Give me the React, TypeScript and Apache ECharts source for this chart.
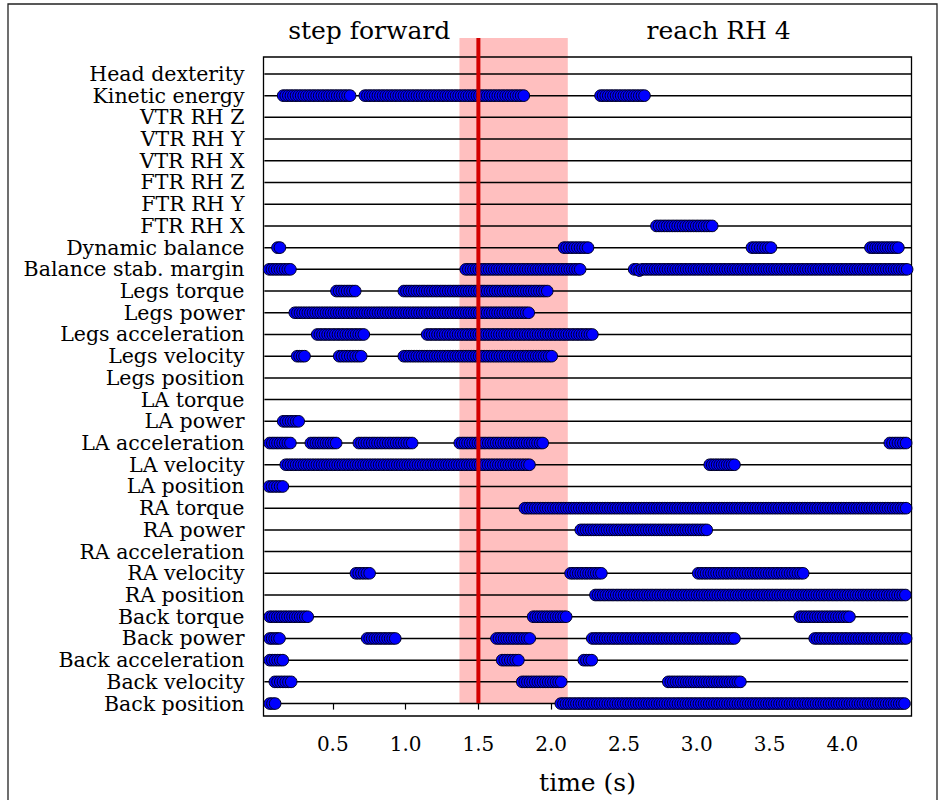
import React, { useEffect, useRef } from "react";
import * as echarts from "echarts";

// Row names, top to bottom
const rowNames: string[] = [
  "Head dexterity",
  "Kinetic energy",
  "VTR RH Z",
  "VTR RH Y",
  "VTR RH X",
  "FTR RH Z",
  "FTR RH Y",
  "FTR RH X",
  "Dynamic balance",
  "Balance stab. margin",
  "Legs torque",
  "Legs power",
  "Legs acceleration",
  "Legs velocity",
  "Legs position",
  "LA torque",
  "LA power",
  "LA acceleration",
  "LA velocity",
  "LA position",
  "RA torque",
  "RA power",
  "RA acceleration",
  "RA velocity",
  "RA position",
  "Back torque",
  "Back power",
  "Back acceleration",
  "Back velocity",
  "Back position",
];

// Active intervals (s) per row, same order as rowNames
const rowSegments: number[][][] = [
  [],
  [[0.159, 0.619], [0.72, 1.812], [2.339, 2.641]],
  [],
  [],
  [],
  [],
  [],
  [[2.723, 3.106]],
  [[0.12, 0.137], [2.088, 2.253], [3.379, 3.51], [4.193, 4.385]],
  [[0.063, 0.209], [1.413, 2.199], [2.57, 4.445]],
  [[0.525, 0.654], [0.988, 1.973]],
  [[0.239, 1.846]],
  [[0.393, 0.713], [1.148, 2.283]],
  [[0.255, 0.306], [0.544, 0.695], [0.988, 2.004]],
  [],
  [],
  [[0.159, 0.266]],
  [[0.067, 0.209], [0.349, 0.523], [0.679, 1.045], [1.372, 1.942], [4.326, 4.438]],
  [[0.177, 1.851], [3.089, 3.259]],
  [[0.063, 0.157]],
  [[1.819, 4.438]],
  [[2.203, 3.069]],
  [],
  [[0.659, 0.753], [2.133, 2.345], [3.01, 3.731]],
  [[2.304, 4.433]],
  [[0.067, 0.328], [1.876, 2.103], [3.707, 4.049]],
  [[0.067, 0.134], [0.736, 0.929], [1.624, 1.853], [2.282, 3.259], [3.81, 4.438]],
  [[0.067, 0.157], [1.663, 1.775], [2.224, 2.279]],
  [[0.102, 0.214], [1.801, 2.069], [2.804, 3.3]],
  [[0.067, 0.104], [2.066, 4.427]],
];

// Recording time range per row (s)
const lineStart = 0.03;
const lineEnds: number[] = [
  4.475, 4.475, 4.475, 4.475, 4.475, 4.475, 4.475, 4.475, 4.475, 4.475,
  4.475, 4.475, 4.475, 4.475, 4.475, 4.475, 4.475, 4.475, 4.475, 4.475,
  4.475, 4.475, 4.475, 4.475, 4.475, 4.452, 4.452, 4.452, 4.452, 4.452,
];

const xTicks: number[] = [0.5, 1.0, 1.5, 2.0, 2.5, 3.0, 3.5, 4.0];
const xMin = 0.024;
const xMax = 4.475;

const eventSpan: number[] = [1.37, 2.114];
const eventTime = 1.5;
const phaseCenters: number[] = [0.75, 3.15];
const phaseLabels: string[] = ["step forward", "reach RH 4"];

const FONT = "DejaVu Serif";

export default function App() {
  const ref = useRef<HTMLDivElement>(null);

  useEffect(() => {
    if (!ref.current) return;
    const chart = echarts.init(ref.current, undefined, { renderer: "svg" });
    const nRows = rowNames.length;
    const rowData = rowNames.map((_, k) => [nRows - 1 - k, lineStart, lineEnds[k]]);

    const option: any = {
      animation: false,
      backgroundColor: "#fff",
      graphic: [
        {
          type: "rect",
          shape: { x: 8, y: 4, width: 929, height: 820 },
          style: { fill: "none", stroke: "#222", lineWidth: 1.3 },
          silent: true,
        },
      ],
      grid: [
        {
          left: 263.5,
          right: 28.5,
          top: 57,
          bottom: 84,
          show: true,
          borderColor: "#000",
          borderWidth: 1.3,
          backgroundColor: "transparent",
          z: 1,
        },
        { left: 263.5, right: 28.5, top: 38, bottom: 96.7, show: false },
      ],
      xAxis: [
        {
          type: "value",
          gridIndex: 0,
          min: xMin,
          max: xMax,
          axisLine: { show: false },
          splitLine: { show: false },
          axisTick: {
            show: true,
            customValues: xTicks,
            inside: false,
            length: 6,
            lineStyle: { color: "#000", width: 1.2 },
          },
          axisLabel: {
            customValues: xTicks,
            formatter: (v: number) => v.toFixed(1),
            fontFamily: FONT,
            fontSize: 20,
            color: "#000",
            margin: 18,
          },
          name: "time (s)",
          nameLocation: "middle",
          nameGap: 54,
          nameTextStyle: { fontFamily: FONT, fontSize: 25, color: "#000" },
        },
        { type: "value", gridIndex: 1, min: xMin, max: xMax, show: false },
      ],
      yAxis: [
        {
          type: "value",
          gridIndex: 0,
          min: -0.572,
          max: 29.78,
          axisLine: { show: false },
          axisTick: { show: false },
          splitLine: { show: false },
          axisLabel: {
            customValues: rowNames.map((_, k) => k),
            formatter: (v: number) => rowNames[nRows - 1 - Math.round(v)],
            fontFamily: FONT,
            fontSize: 20.5,
            color: "#000",
            margin: 19,
          },
        },
        { type: "value", gridIndex: 1, min: 0, max: 1, show: false },
      ],
      series: [
        {
          type: "custom",
          name: "span",
          xAxisIndex: 1,
          yAxisIndex: 1,
          z: 0,
          silent: true,
          data: [[eventSpan[0], eventSpan[1]]],
          renderItem: (params: any, api: any) => {
            const a = api.coord([api.value(0), 1]);
            const b = api.coord([api.value(1), 0]);
            return {
              type: "rect",
              shape: { x: a[0], y: a[1], width: b[0] - a[0], height: b[1] - a[1] },
              style: { fill: "#ffbfbf" },
            };
          },
        },
        {
          type: "custom",
          name: "rows",
          xAxisIndex: 0,
          yAxisIndex: 0,
          z: 2,
          silent: true,
          encode: { x: [1, 2], y: 0 },
          data: rowData,
          renderItem: (params: any, api: any) => {
            const k = params.dataIndex;
            const yv = api.value(0);
            const p0 = api.coord([api.value(1), yv]);
            const p1 = api.coord([api.value(2), yv]);
            const children: any[] = [
              {
                type: "line",
                shape: { x1: p0[0], y1: p0[1], x2: p1[0], y2: p1[1] },
                style: { stroke: "#000", lineWidth: 1.5 },
              },
            ];
            for (const seg of rowSegments[k]) {
              const a = api.coord([seg[0], yv])[0];
              const b = api.coord([seg[1], yv])[0];
              const n = Math.max(1, Math.round((b - a) / 2.6));
              for (let i = 0; i <= n; i++) {
                const cx = a + ((b - a) * i) / n;
                children.push({
                  type: "circle",
                  shape: { cx, cy: p0[1], r: 5.8 },
                  style: { fill: "#0000ff", stroke: "#000022", lineWidth: 1 },
                });
              }
            }
            return { type: "group", children };
          },
        },
        {
          type: "custom",
          name: "event",
          xAxisIndex: 1,
          yAxisIndex: 1,
          z: 5,
          silent: true,
          data: [[eventTime, 0]],
          renderItem: (params: any, api: any) => {
            const a = api.coord([api.value(0), 1]);
            const b = api.coord([api.value(0), 0]);
            return {
              type: "line",
              shape: { x1: a[0], y1: a[1], x2: b[0], y2: b[1] },
              style: { stroke: "#d40000", lineWidth: 4 },
            };
          },
        },
        {
          type: "custom",
          name: "phases",
          xAxisIndex: 1,
          yAxisIndex: 1,
          z: 5,
          silent: true,
          data: phaseCenters.map((c) => [c, 1]),
          renderItem: (params: any, api: any) => {
            const p = api.coord([api.value(0), api.value(1)]);
            return {
              type: "text",
              x: p[0],
              y: p[1] - 8,
              style: {
                text: phaseLabels[params.dataIndex],
                fontFamily: FONT,
                fontSize: 25,
                fill: "#000",
                align: "center",
                verticalAlign: "middle",
              },
            };
          },
        },
      ],
    };
    chart.setOption(option);
    return () => chart.dispose();
  }, []);

  return (
    <div
      ref={ref}
      style={{ position: "absolute", left: 0, top: 0, width: 940, height: 800, background: "#fff" }}
    />
  );
}
